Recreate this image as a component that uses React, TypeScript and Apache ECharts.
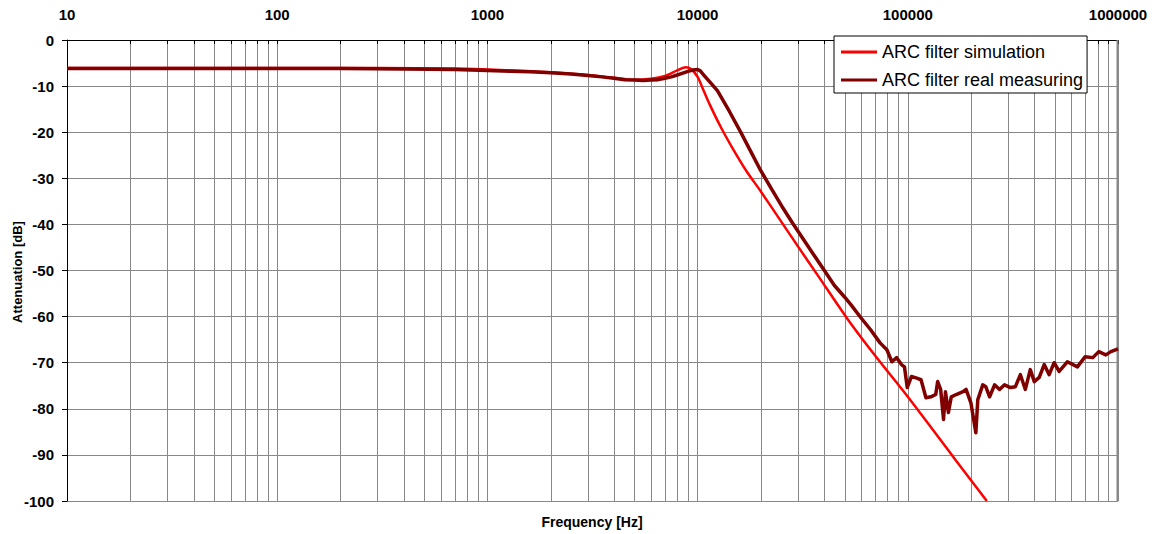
import React, { useEffect, useRef } from "react";
import * as echarts from "echarts";

const seriesNames = ["ARC filter simulation", "ARC filter real measuring"];

const simFreq = [10, 100, 300, 700, 1000, 1500, 2000, 3000, 4000, 5000, 6000, 7000, 8000, 8800, 9300, 10000, 10640, 11530, 13000, 14890, 17000, 19950, 24000, 29850, 38000, 51650, 70000, 100000, 165600, 237700];
const simDb = [-6.1, -6.1, -6.1, -6.2, -6.4, -6.7, -7.0, -7.6, -8.2, -8.6, -8.4, -7.8, -6.6, -5.9, -6.3, -8.0, -10.8, -14.4, -19.2, -24.0, -28.3, -32.8, -38.2, -44.6, -51.6, -60.5, -68.5, -77.4, -90.6, -100];

const measFreq = [10, 50, 100, 200, 400, 700, 1000, 1300, 1600, 2000, 2500, 3000, 3500, 4000, 4500, 5000, 5500, 6000, 6500, 7000, 7500, 8000, 8500, 9000, 9500, 10000, 10300, 10700, 11480, 12420, 14130, 16030, 18200, 19950, 22390, 25120, 28180, 31620, 35480, 39810, 44670, 50120, 53600, 59700, 66400, 73800, 79500, 84000, 88500, 93300, 96400, 99400, 104000, 109500, 115600, 122000, 128700, 135800, 138700, 143300, 147900, 151100, 156000, 161000, 169900, 183200, 189300, 199600, 210700, 215300, 227300, 234900, 245000, 258700, 273200, 288500, 307800, 325000, 343200, 362400, 382600, 399700, 422000, 445600, 470500, 496800, 524600, 574000, 641000, 697000, 759000, 810000, 875000, 925000, 1000000];
const measDb = [-6.2, -6.2, -6.2, -6.2, -6.3, -6.4, -6.6, -6.8, -6.9, -7.1, -7.4, -7.7, -8.0, -8.3, -8.6, -8.7, -8.8, -8.7, -8.6, -8.3, -8.0, -7.6, -7.2, -6.8, -6.5, -6.4, -6.7, -7.6, -9.2, -11.0, -15.4, -20.0, -24.8, -28.3, -32.2, -36.0, -39.6, -43.0, -46.4, -49.8, -53.2, -55.8, -57.4, -60.2, -62.8, -65.7, -67.2, -69.8, -68.9, -70.4, -70.9, -75.4, -73.0, -73.3, -73.7, -77.6, -77.4, -76.9, -74.1, -75.8, -82.3, -76.3, -80.8, -77.4, -76.9, -76.3, -75.8, -78.7, -85.2, -78.0, -74.8, -75.2, -77.4, -74.8, -75.8, -74.8, -75.4, -75.2, -72.6, -75.8, -71.5, -74.1, -73.2, -70.4, -72.6, -70.0, -71.9, -69.8, -70.9, -68.7, -68.9, -67.6, -68.3, -67.6, -67.0];

const minorFreq = [20, 30, 40, 50, 60, 70, 80, 90, 200, 300, 400, 500, 600, 700, 800, 900, 2000, 3000, 4000, 5000, 6000, 7000, 8000, 9000, 20000, 30000, 40000, 50000, 60000, 70000, 80000, 90000, 200000, 300000, 400000, 500000, 600000, 700000, 800000, 900000];

const yMin = -100;
const yMax = 0;

export default function App() {
  const ref = useRef<HTMLDivElement>(null);
  useEffect(() => {
    if (!ref.current) return;
    const chart = echarts.init(ref.current, null, { renderer: "svg" });
    const font = "'Liberation Sans', Arial, sans-serif";
    const gridColor = "#888888";
    chart.setOption({
      animation: false,
      backgroundColor: "#ffffff",
      grid: { left: 67, top: 40, right: 37, bottom: 33, containLabel: false, outerBoundsMode: "none" },
      legend: {
        left: 834,
        top: 36,
        orient: "vertical",
        backgroundColor: "#ffffff",
        borderColor: "#000000",
        borderWidth: 1,
        borderRadius: 0,
        padding: [7, 4, 4, 7],
        itemGap: 10,
        itemWidth: 36,
        itemHeight: 3,
        textStyle: { fontFamily: font, fontSize: 18, color: "#000000" },
        data: [
          { name: seriesNames[0], icon: "rect" },
          { name: seriesNames[1], icon: "rect" },
        ],
      },
      xAxis: {
        type: "log",
        logBase: 10,
        min: 10,
        max: 1000000,
        position: "top",
        axisLine: { show: true, lineStyle: { color: "#000000", width: 1 } },
        axisTick: { show: true, inside: true, length: 4, lineStyle: { color: "#000000" } },
        axisLabel: {
          fontFamily: font,
          fontSize: 15,
          fontWeight: "bold",
          color: "#000000",
          margin: 18,
          hideOverlap: false,
          formatter: (v: number) => String(Math.round(v)),
        },
        splitLine: { show: true, lineStyle: { color: gridColor, width: 1 } },
      },
      yAxis: {
        type: "value",
        min: yMin,
        max: yMax,
        interval: 10,
        axisLine: { show: true, lineStyle: { color: "#000000", width: 1 } },
        axisTick: { show: true, inside: false, length: 5, lineStyle: { color: "#000000" } },
        axisLabel: {
          fontFamily: font,
          fontSize: 15,
          fontWeight: "bold",
          color: "#000000",
          margin: 13,
        },
        splitLine: { show: true, lineStyle: { color: gridColor, width: 1 } },
      },
      graphic: [
        {
          type: "text",
          x: 592,
          y: 522,
          style: {
            text: "Frequency [Hz]",
            fontFamily: font,
            fontSize: 14,
            fontWeight: "bold",
            fill: "#000000",
            align: "center",
            verticalAlign: "middle",
          },
        },
        {
          type: "text",
          x: 17,
          y: 272,
          rotation: Math.PI / 2,
          style: {
            text: "Attenuation [dB]",
            fontFamily: font,
            fontSize: 13,
            fontWeight: "bold",
            fill: "#000000",
            align: "center",
            verticalAlign: "middle",
          },
        },
        {
          type: "line",
          shape: { x1: 1117.5, y1: 40, x2: 1117.5, y2: 501 },
          style: { stroke: gridColor, lineWidth: 2 },
          z: 1,
        },
      ],
      series: [
        {
          type: "custom",
          name: "minor",
          silent: true,
          z: 1,
          data: minorFreq.map((f) => [f, yMax]),
          renderItem: (params: any, api: any) => {
            const f = api.value(0);
            const top = api.coord([f, yMax]);
            const bot = api.coord([f, yMin]);
            const x = Math.round(top[0]) + 0.5;
            return {
              type: "group",
              children: [
                {
                  type: "line",
                  shape: { x1: x, y1: top[1], x2: x, y2: bot[1] },
                  style: { stroke: gridColor, lineWidth: 1 },
                },
                {
                  type: "line",
                  shape: { x1: x, y1: top[1], x2: x, y2: top[1] + 4 },
                  style: { stroke: "#000000", lineWidth: 1 },
                },
              ],
            };
          },
        },
        {
          type: "line",
          name: seriesNames[0],
          data: simFreq.map((f, i) => [f, simDb[i]]),
          showSymbol: false,
          symbol: "none",
          smooth: 0.3,
          z: 3,
          lineStyle: { color: "#ff0000", width: 2.5 },
          itemStyle: { color: "#ff0000" },
        },
        {
          type: "line",
          name: seriesNames[1],
          data: measFreq.map((f, i) => [f, measDb[i]]),
          showSymbol: false,
          symbol: "none",
          smooth: false,
          z: 4,
          lineStyle: { color: "#800000", width: 3.5, join: "round" },
          itemStyle: { color: "#800000" },
        },
      ],
    });
    return () => chart.dispose();
  }, []);
  return (
    <div
      ref={ref}
      style={{ position: "fixed", left: 0, top: 0, width: 1155, height: 534 }}
    />
  );
}
